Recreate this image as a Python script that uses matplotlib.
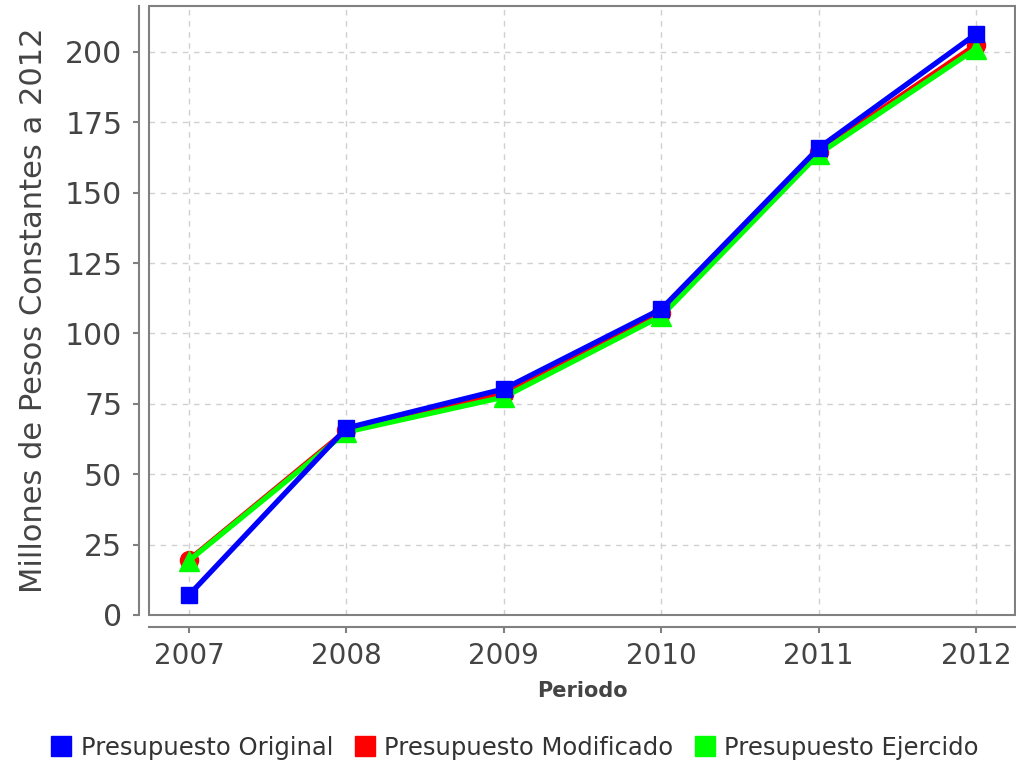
import matplotlib.pyplot as plt
from matplotlib.patches import Rectangle
from matplotlib.lines import Line2D

# datos
periodos = ["2007", "2008", "2009", "2010", "2011", "2012"]
original = [7.1, 66.4, 80.3, 108.7, 165.9, 206.4]
modificado = [19.6, 65.6, 78.6, 107.2, 164.6, 202.6]
ejercido = [19.3, 65.0, 77.4, 106.2, 163.8, 201.2]

fig = plt.figure(figsize=(10.16, 7.65), dpi=100)
ax = fig.add_axes([149 / 1016, 1 - 615 / 765, 866 / 1016, 609 / 765])

x = range(len(periodos))
ax.plot(x, modificado, color="#ff0000", lw=3.8, marker="o", ms=13, zorder=3,
        label="Presupuesto Modificado")
ax.plot(x, ejercido, color="#00ff00", lw=3.8, marker="^", ms=14, zorder=4,
        label="Presupuesto Ejercido")
ax.plot(x, original, color="#0000ff", lw=3.8, marker="s", ms=12, zorder=5,
        label="Presupuesto Original")

ax.set_xlim(-0.254, 5.246)
ax.set_ylim(0, 216.3)
ax.set_xticks(list(x))
ax.set_xticklabels(periodos)
ax.set_yticks(range(0, 201, 25))

ax.grid(True, color="#d0d0d0", linestyle=(0, (4, 4)), lw=1)
ax.set_axisbelow(True)

# ejes separados del area de trazado
for s in ["top", "right"]:
    ax.spines[s].set_visible(False)
ax.spines["left"].set_position(("outward", 7.2))
ax.spines["bottom"].set_position(("outward", 8.6))
for s in ["left", "bottom"]:
    ax.spines[s].set_color("#808080")
    ax.spines[s].set_linewidth(1.5)
ax.add_patch(Rectangle((0, 0), 1, 1, transform=ax.transAxes, fill=False,
                       edgecolor="#808080", lw=1.5, clip_on=False, zorder=6))

ax.tick_params(colors="#808080", labelcolor="#444444", labelsize=20, length=4, width=1.5)
ax.tick_params(axis="x", pad=7)
ax.tick_params(axis="y", pad=8, labelsize=21.5)
ax.set_ylabel("Millones de Pesos Constantes a 2012", fontsize=22, color="#444444", labelpad=12)
ax.set_xlabel("Periodo", fontsize=15, color="#444444", fontweight="bold", labelpad=8)

handles = [Line2D([], [], color=c, marker="s", ls="none", ms=14)
           for c in ["#0000ff", "#ff0000", "#00ff00"]]
labels = ["Presupuesto Original", "Presupuesto Modificado", "Presupuesto Ejercido"]
fig.legend(handles, labels, loc="center", bbox_to_anchor=(0.507, 1 - 748 / 765), ncol=3,
           frameon=False, fontsize=17.5, handlelength=0.8, handletextpad=0.4,
           columnspacing=0.9, labelcolor="#333333")

plt.savefig("out.png", dpi=100)
